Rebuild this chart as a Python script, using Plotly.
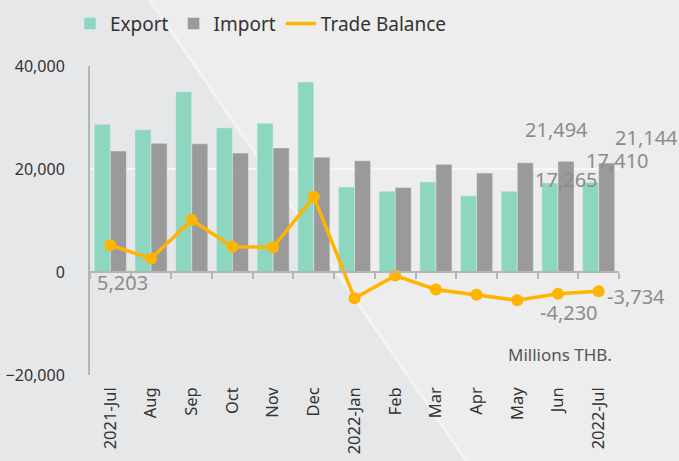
import plotly.graph_objects as go

months = ["2021-Jul", "Aug", "Sep", "Oct", "Nov", "Dec", "2022-Jan", "Feb", "Mar", "Apr", "May", "Jun", "2022-Jul"]
export_vals = [28700, 27600, 35000, 28000, 28900, 36900, 16500, 15700, 17500, 14800, 15700, 17265, 17410]
import_vals = [23497, 25000, 24900, 23100, 24100, 22300, 21600, 16400, 20900, 19200, 21200, 21494, 21144]
balance_vals = [5203, 2600, 10100, 4900, 4800, 14600, -5100, -700, -3400, -4400, -5500, -4230, -3734]

EXPORT_C = "#8dd6c0"
IMPORT_C = "#9a9a9b"
BAL_C = "#ffb400"
LABEL_C = "#8c8c8c"
FONT = "Noto Sans"

fig = go.Figure()
fig.add_trace(go.Bar(name="Export", x=months, y=export_vals, marker_color=EXPORT_C))
fig.add_trace(go.Bar(name="Import", x=months, y=import_vals, marker_color=IMPORT_C))
fig.add_trace(go.Scatter(name="Trade Balance", x=months, y=balance_vals, mode="lines+markers",
                         line=dict(color=BAL_C, width=3.5), marker=dict(color=BAL_C, size=12),
                         showlegend=False))
# legend entry for the line (line only, as in the reference)
fig.add_trace(go.Scatter(name="Trade Balance", x=[months[0]], y=[None], mode="lines",
                         line=dict(color=BAL_C, width=3.5), showlegend=True, hoverinfo="skip"))


def fmt(v):
    return f"{v:,}"


ann = [
    (months[0], balance_vals[0], fmt(balance_vals[0]), 12, -37),
    (months[11], import_vals[11], fmt(import_vals[11]), -1, 32),
    (months[11], export_vals[11], fmt(export_vals[11]), 9, 4),
    (months[12], import_vals[12], fmt(import_vals[12]), 48, 26),
    (months[12], export_vals[12], fmt(export_vals[12]), 19, 22),
    (months[11], balance_vals[11], fmt(balance_vals[11]), 11, -19),
    (months[12], balance_vals[12], fmt(balance_vals[12]), 37, -5),
]
for x, y, t, xs, ys in ann:
    fig.add_annotation(x=x, y=y, text=t, showarrow=False, xshift=xs, yshift=ys,
                       font=dict(family=FONT, size=20, color=LABEL_C))

fig.add_annotation(xref="paper", yref="paper", x=0.99, y=0.065, text="Millions THB.", showarrow=False,
                   xanchor="right", yanchor="middle", font=dict(family=FONT, size=17, color="#555555"))

# background photo shading (decorative)
fig.add_shape(type="path", xref="paper", yref="paper", layer="below",
              path="M -0.2 1.22 L 0.11 1.22 L 0.72 -0.3 L -0.2 -0.3 Z",
              fillcolor="#e6e7e9", line=dict(width=0))
fig.add_shape(type="line", xref="paper", yref="paper", layer="below",
              x0=0.11, y0=1.22, x1=0.72, y1=-0.3,
              line=dict(color="rgba(255,255,255,0.45)", width=3))

fig.update_layout(
    width=679, height=461,
    margin=dict(l=90, r=60, t=66, b=86, autoexpand=False),
    paper_bgcolor="#ededed", plot_bgcolor="rgba(0,0,0,0)",
    font=dict(family=FONT, color="#333333"),
    barmode="group", bargap=0.21, bargroupgap=0,
    showlegend=True,
    legend=dict(orientation="h", xref="container", x=0.103, xanchor="left", yref="container", y=0.99,
                yanchor="top", font=dict(family=FONT, size=19, color="#333333"), bgcolor="rgba(0,0,0,0)",
                itemwidth=30, traceorder="normal", tracegroupgap=0),
    xaxis=dict(type="category", tickangle=-90, showgrid=False, showline=False, ticks="",
               tickfont=dict(family=FONT, size=16.5, color="#333333"), range=[-0.5, 12.5],
               automargin=False, ticklabelstandoff=8),
    xaxis2=dict(type="category", overlaying="x", matches="x", anchor="free", position=1/3, side="bottom",
                showline=True, linecolor="#b5b5b5", linewidth=2, ticks="outside", ticklen=6,
                tickcolor="#b5b5b5", tickwidth=2, tickson="boundaries", showticklabels=False,
                showgrid=False, range=[-0.5, 12.5], automargin=False),
    yaxis=dict(range=[-20000, 40000], tickvals=[-20000, 0, 20000, 40000], tickformat=",",
               showgrid=True, gridcolor="#f7f7f7", gridwidth=1.5, zeroline=False,
               showline=True, linecolor="#b5b5b5", linewidth=2, ticks="", automargin=False,
               tickfont=dict(family=FONT, size=16, color="#333333"), ticklabelstandoff=20),
)
fig.add_trace(go.Scatter(x=months, y=[None] * len(months), xaxis="x2", showlegend=False, hoverinfo="skip"))

fig.write_html("out.html")
